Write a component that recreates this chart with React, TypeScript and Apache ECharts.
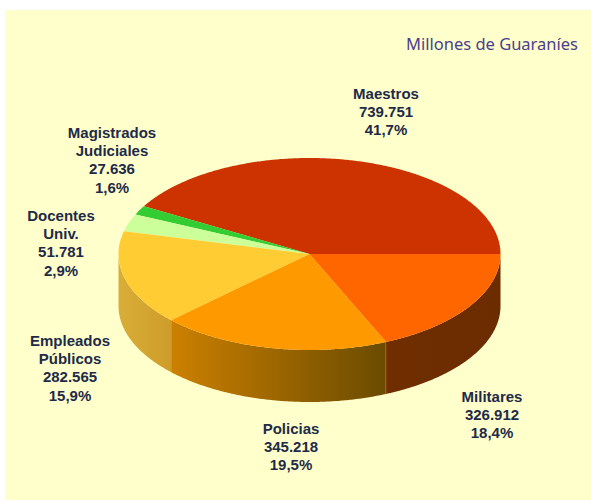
import React, { useEffect, useRef } from "react";
import * as echarts from "echarts";

const categories = [
  ["Maestros"],
  ["Magistrados", "Judiciales"],
  ["Docentes", "Univ."],
  ["Empleados", "Públicos"],
  ["Policias"],
  ["Militares"],
];
const values = [739751, 27636, 51781, 282565, 345218, 326912];
const titleText = "Millones de Guaraníes";

const topColors = ["#CC3300", "#33CC33", "#CCFF99", "#FFCC33", "#FF9900", "#FF6600"];
const wallStops: string[][] = [
  ["#7a2000", "#7a2000"],
  ["#1f7a1f", "#1f7a1f"],
  ["#7a9a5c", "#7a9a5c"],
  ["#D8AE38", "#CF9C2A"],
  ["#CC8000", "#6A4B00"],
  ["#702E00", "#6B2C00"],
];
const wallEdge = ["", "", "", "", "#F09000", ""];
const labelPos = [
  [386, 93],
  [112, 132],
  [61, 215],
  [70, 340],
  [291, 428],
  [492, 396],
];

const CX = 309.5;
const CY = 254;
const RX = 191;
const RY = 96;
const DEPTH = 52;
const LINE = 18.4;

const total = values.reduce((a, b) => a + b, 0);
const starts: number[] = [];
values.reduce((acc, v, i) => {
  starts[i] = acc;
  return acc + v;
}, 0);

const fmtValue = (v: number) => String(v).replace(/\B(?=(\d{3})+$)/g, ".");
const fmtPct = (v: number) => ((v / total) * 100).toFixed(1).replace(".", ",") + "%";

const pt = (deg: number, dy = 0): number[] => {
  const r = (deg * Math.PI) / 180;
  return [CX + RX * Math.cos(r), CY - RY * Math.sin(r) + dy];
};

const arcPoints = (a: number, b: number, dy = 0): number[][] => {
  const out: number[][] = [];
  const n = Math.max(2, Math.ceil(Math.abs(b - a) / 0.5));
  for (let i = 0; i <= n; i++) out.push(pt(a + ((b - a) * i) / n, dy));
  return out;
};

const renderItem = (params: any, api: any) => {
  const i = params.dataIndex;
  const v = api.value(0);
  const a0 = (starts[i] / total) * 360;
  const a1 = a0 + (v / total) * 360;
  const children: any[] = [];

  const w0 = Math.max(a0, 180);
  if (a1 > 180) {
    children.push({
      type: "polygon",
      shape: { points: [...arcPoints(w0, a1), ...arcPoints(a1, w0, DEPTH)] },
      style: {
        fill: new echarts.graphic.LinearGradient(0, 0, 1, 0, [
          { offset: 0, color: wallStops[i][0] },
          { offset: 1, color: wallStops[i][1] },
        ]),
      },
    });
    if (wallEdge[i]) {
      const [x1, y1] = pt(a1);
      children.push({
        type: "line",
        shape: { x1, y1, x2: x1, y2: y1 + DEPTH },
        style: { stroke: wallEdge[i], lineWidth: 1 },
      });
    }
  }
  children.push({
    type: "polygon",
    shape: { points: [[CX, CY], ...arcPoints(a0, a1)] },
    style: { fill: topColors[i] },
  });

  const lines = [...categories[i], fmtValue(v), fmtPct(v)];
  lines.forEach((t, k) => {
    children.push({
      type: "text",
      z2: 10,
      style: {
        text: t,
        x: labelPos[i][0],
        y: labelPos[i][1] + k * LINE,
        textAlign: "center",
        textVerticalAlign: "middle",
        font: 'bold 15px "Liberation Sans", Arial, sans-serif',
        fill: "#1E2A48",
      },
    });
  });
  return { type: "group", children };
};

export default function App() {
  const ref = useRef<HTMLDivElement>(null);
  useEffect(() => {
    document.body.style.margin = "0";
    const chart = echarts.init(ref.current!, undefined, { renderer: "svg" });
    chart.setOption({
      animation: false,
      backgroundColor: "#FFFFFF",
      title: {
        text: titleText,
        right: 8,
        top: 30,
        textStyle: {
          fontFamily: '"Noto Sans", sans-serif',
          fontSize: 16.5,
          fontWeight: "normal",
          color: "#4A3E8E",
        },
      },
      graphic: [
        {
          type: "rect",
          z: -10,
          shape: { x: 5, y: 10, width: 586, height: 490 },
          style: { fill: "#FFFFCC" },
        },
      ],
      series: [
        {
          type: "custom",
          coordinateSystem: "none",
          renderItem,
          data: values.map((v) => [v]),
          silent: true,
        },
      ],
    });
    return () => chart.dispose();
  }, []);
  return <div ref={ref} style={{ width: 591, height: 501 }} />;
}
